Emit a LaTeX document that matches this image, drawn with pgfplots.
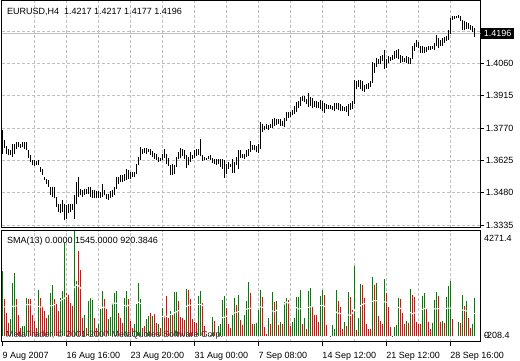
\documentclass[border=0pt]{standalone}
\usepackage{pgfplots}
\pgfplotsset{compat=1.18}
\usepackage{pgfplotstable}
\usepackage{fontspec}
\setmainfont{Liberation Sans}
\definecolor{gridc}{HTML}{C0C0C0}
\definecolor{volg}{HTML}{008000}
\definecolor{volr}{HTML}{FF0000}
\newcommand{\lbl}{\fontsize{9}{10}\selectfont}

\pgfplotstableread{
i h l
0 1.3762 1.3655
1 1.3715 1.3681
2 1.3692 1.3655
3 1.3678 1.3648
4 1.3670 1.3648
5 1.3700 1.3640
6 1.3700 1.3655
7 1.3707 1.3678
8 1.3707 1.3685
9 1.3700 1.3681
10 1.3707 1.3685
11 1.3707 1.3678
12 1.3707 1.3670
13 1.3670 1.3636
14 1.3648 1.3618
15 1.3626 1.3603
16 1.3626 1.3600
17 1.3621 1.3603
18 1.3626 1.3603
19 1.3596 1.3574
20 1.3588 1.3559
21 1.3551 1.3536
22 1.3544 1.3521
23 1.3536 1.3507
24 1.3507 1.3469
25 1.3507 1.3462
26 1.3507 1.3455
27 1.3462 1.3417
28 1.3432 1.3395
29 1.3432 1.3388
30 1.3447 1.3395
31 1.3432 1.3358
32 1.3425 1.3365
33 1.3432 1.3388
34 1.3432 1.3395
35 1.3432 1.3403
36 1.3469 1.3365
37 1.3529 1.3432
38 1.3551 1.3462
39 1.3499 1.3469
40 1.3492 1.3462
41 1.3499 1.3472
42 1.3499 1.3477
43 1.3507 1.3477
44 1.3507 1.3462
45 1.3492 1.3455
46 1.3492 1.3458
47 1.3487 1.3455
48 1.3487 1.3455
49 1.3484 1.3455
50 1.3521 1.3462
51 1.3492 1.3469
52 1.3477 1.3452
53 1.3477 1.3447
54 1.3487 1.3458
55 1.3492 1.3462
56 1.3507 1.3469
57 1.3551 1.3499
58 1.3551 1.3521
59 1.3559 1.3529
60 1.3559 1.3529
61 1.3566 1.3532
62 1.3588 1.3536
63 1.3581 1.3544
64 1.3574 1.3544
65 1.3574 1.3551
66 1.3574 1.3551
67 1.3611 1.3566
68 1.3640 1.3603
69 1.3685 1.3626
70 1.3678 1.3655
71 1.3681 1.3660
72 1.3681 1.3655
73 1.3678 1.3663
74 1.3675 1.3648
75 1.3666 1.3640
76 1.3660 1.3633
77 1.3655 1.3626
78 1.3640 1.3618
79 1.3636 1.3621
80 1.3655 1.3626
81 1.3678 1.3636
82 1.3655 1.3611
83 1.3636 1.3600
84 1.3606 1.3559
85 1.3611 1.3562
86 1.3603 1.3566
87 1.3641 1.3596
88 1.3663 1.3630
89 1.3681 1.3636
90 1.3678 1.3645
91 1.3670 1.3633
92 1.3651 1.3592
93 1.3641 1.3603
94 1.3663 1.3618
95 1.3651 1.3630
96 1.3670 1.3636
97 1.3678 1.3645
98 1.3678 1.3648
99 1.3720 1.3645
100 1.3648 1.3621
101 1.3641 1.3626
102 1.3636 1.3626
103 1.3645 1.3630
104 1.3651 1.3626
105 1.3636 1.3615
106 1.3633 1.3611
107 1.3630 1.3604
108 1.3633 1.3611
109 1.3630 1.3596
110 1.3633 1.3589
111 1.3626 1.3547
112 1.3611 1.3566
113 1.3618 1.3589
114 1.3611 1.3596
115 1.3633 1.3571
116 1.3618 1.3571
117 1.3641 1.3604
118 1.3670 1.3589
119 1.3670 1.3636
120 1.3655 1.3636
121 1.3655 1.3633
122 1.3670 1.3641
123 1.3678 1.3645
124 1.3711 1.3663
125 1.3696 1.3670
126 1.3696 1.3670
127 1.3690 1.3663
128 1.3700 1.3660
129 1.3797 1.3678
130 1.3789 1.3752
131 1.3782 1.3760
132 1.3789 1.3767
133 1.3785 1.3764
134 1.3789 1.3770
135 1.3812 1.3770
136 1.3815 1.3782
137 1.3812 1.3785
138 1.3812 1.3789
139 1.3812 1.3782
140 1.3804 1.3782
141 1.3815 1.3775
142 1.3844 1.3804
143 1.3844 1.3815
144 1.3841 1.3819
145 1.3853 1.3827
146 1.3871 1.3834
147 1.3886 1.3841
148 1.3893 1.3859
149 1.3908 1.3871
150 1.3916 1.3893
151 1.3916 1.3886
152 1.3901 1.3879
153 1.3928 1.3864
154 1.3908 1.3871
155 1.3904 1.3859
156 1.3893 1.3864
157 1.3893 1.3859
158 1.3886 1.3859
159 1.3896 1.3858
160 1.3892 1.3847
161 1.3882 1.3840
162 1.3877 1.3855
163 1.3873 1.3858
164 1.3873 1.3858
165 1.3870 1.3852
166 1.3884 1.3847
167 1.3884 1.3855
168 1.3882 1.3852
169 1.3877 1.3847
170 1.3870 1.3847
171 1.3867 1.3847
172 1.3870 1.3843
173 1.3877 1.3825
174 1.3882 1.3852
175 1.3892 1.3855
176 1.3986 1.3877
177 1.3981 1.3944
178 1.3986 1.3956
179 1.3986 1.3944
180 1.3981 1.3937
181 1.3962 1.3932
182 1.3966 1.3944
183 1.3974 1.3947
184 1.3981 1.3956
185 1.4066 1.3971
186 1.4063 1.4018
187 1.4085 1.4045
188 1.4081 1.4056
189 1.4093 1.4060
190 1.4100 1.4070
191 1.4120 1.4036
192 1.4078 1.4041
193 1.4093 1.4063
194 1.4090 1.4070
195 1.4096 1.4075
196 1.4115 1.4081
197 1.4120 1.4085
198 1.4125 1.4078
199 1.4100 1.4063
200 1.4093 1.4066
201 1.4085 1.4066
202 1.4093 1.4063
203 1.4090 1.4060
204 1.4085 1.4056
205 1.4140 1.4081
206 1.4152 1.4115
207 1.4164 1.4134
208 1.4155 1.4130
209 1.4140 1.4108
210 1.4137 1.4108
211 1.4134 1.4108
212 1.4134 1.4111
213 1.4137 1.4120
214 1.4140 1.4122
215 1.4140 1.4125
216 1.4152 1.4122
217 1.4189 1.4137
218 1.4175 1.4130
219 1.4167 1.4137
220 1.4175 1.4140
221 1.4179 1.4152
222 1.4185 1.4160
223 1.4209 1.4167
224 1.4264 1.4192
225 1.4274 1.4256
226 1.4271 1.4259
227 1.4274 1.4264
228 1.4279 1.4264
229 1.4274 1.4249
230 1.4256 1.4212
231 1.4249 1.4209
232 1.4244 1.4215
233 1.4241 1.4215
234 1.4234 1.4212
235 1.4227 1.4200
236 1.4217 1.4177
}\price

\pgfplotstableread{
i v
0 2630
4 680
5 2160
6 2560
10 415
11 415
12 1530
18 1890
23 880
24 1755
25 2090
29 1550
30 1820
31 3765
36 4271.4
37 2220
41 880
43 1420
44 1550
45 1530
48 480
49 1085
50 1820
53 680
54 780
55 1350
56 1755
57 1820
61 1550
62 1820
66 480
67 1290
68 2160
69 1490
72 680
73 820
75 820
78 480
80 1150
84 1020
86 1800
87 1800
92 1915
98 1620
99 1820
102 80
103 60
105 780
107 150
108 415
109 480
110 1450
111 1620
115 860
116 1550
118 1660
121 860
122 1420
123 2185
126 510
127 550
128 1045
129 1875
133 720
135 1800
137 1420
139 590
141 1390
142 1530
145 590
146 750
147 1580
148 1580
149 1875
151 750
153 1820
154 1955
159 1635
160 1875
164 20
165 455
166 310
167 1875
171 590
173 1800
176 2840
178 750
179 2115
185 2400
187 2160
191 2320
195 10
196 390
197 470
198 1555
202 630
204 1915
210 1635
211 1755
215 550
216 1475
217 1800
220 630
222 1595
223 2035
224 2240
228 590
230 1675
232 1435
235 510
236 1545
}\volgreen

\pgfplotstableread{
i v
1 1490
2 950
3 550
7 1490
8 880
9 350
13 1490
14 1490
15 880
16 620
17 350
19 1550
20 1220
21 1020
22 750
26 1490
27 1350
28 1020
32 1755
33 1690
34 1350
35 1220
38 3430
39 2690
40 750
42 350
46 750
47 350
51 1490
52 1085
58 950
59 750
60 550
63 1490
64 620
65 350
70 350
71 415
74 950
76 950
77 550
79 350
81 820
82 1620
83 750
85 860
88 1420
89 780
90 720
91 640
93 1875
94 1490
95 680
96 575
97 550
100 1350
101 415
104 60
106 620
112 1150
113 510
114 320
117 1260
119 670
120 455
124 1755
125 480
130 1580
131 375
132 80
134 510
136 1390
138 455
140 480
143 1450
144 415
150 510
152 310
155 1205
156 880
157 880
158 590
161 1675
162 455
168 1435
169 1190
170 310
172 430
174 1595
175 1070
177 270
180 2075
181 1555
182 510
183 310
184 310
186 2075
188 830
189 630
190 510
192 1755
193 1190
194 390
199 1515
200 950
201 510
203 550
205 1675
206 1595
207 590
208 510
209 510
212 1150
213 590
214 310
218 1635
219 590
221 550
225 710
229 550
231 1235
233 750
234 350
}\volred

\pgfplotstableread{
i s
0 1180
6 1220
13 1285
19 1180
25 1245
31 1555
37 2090
44 1555
50 1150
56 1350
62 1220
67 1420
73 1100
77 850
81 780
87 1000
93 1260
99 1285
105 1000
110 750
116 950
123 1125
129 1190
136 990
142 1390
148 1100
155 1205
160 1250
168 925
174 845
176 1070
180 1300
186 1445
192 1380
199 1125
205 910
211 1125
217 1110
224 1140
231 1045
236 920.3846
}\sma

\begin{document}
\begin{tikzpicture}
\path[use as bounding box] (0pt,0pt) rectangle (520pt,360pt);
% ---------------- price panel ----------------
\begin{axis}[
  at={(2pt,359.5pt)}, anchor=north west,
  scale only axis, width=478.7pt, height=227pt,
  xmin=-0.5, xmax=239, ymin=1.33247, ymax=1.43425,
  clip mode=individual,
  axis line style={black, line width=1pt},
  xtick={16,32,...,224}, xticklabels={}, xmajorgrids,
  xtick style={draw=none},
  ytick={1.3335,1.3480,1.3625,1.3770,1.3915,1.4060,1.4205},
  yticklabels={1.3335,1.3480,1.3625,1.3770,1.3915,1.4060,},
  ymajorgrids, ytick pos=right, yticklabel pos=right,
  ytick style={black, line width=1pt},
  tick align=outside, major tick length=3pt,
  major grid style={gridc, line width=1pt, dash pattern=on 3pt off 2pt},
  yticklabel style={anchor=west, inner sep=0pt, xshift=2pt, font=\lbl},
]
\addplot[gridc, line width=1pt, forget plot] coordinates {(-0.5,1.4196) (239,1.4196)};
\addplot[draw=none, mark=none, forget plot,
  error bars/.cd, y dir=plus, y explicit,
  error bar style={draw=black, solid, line width=1pt}, error mark=none]
  table[x=i, y=l, y error expr=\thisrow{h}-\thisrow{l}] {\price};
\node[fill=black, text=white, anchor=west, inner xsep=3pt, inner ysep=0pt,
  minimum height=11.3pt, font=\lbl] at (axis cs:239,1.4196) {1.4196};
\end{axis}
% ---------------- volume panel ----------------
\begin{axis}[
  at={(2pt,129.5pt)}, anchor=north west,
  scale only axis, width=478.7pt, height=111pt,
  xmin=-0.5, xmax=239, ymin=-208.4, ymax=4271.4,
  clip mode=individual,
  axis line style={black, line width=1pt},
  ytick=\empty,
  xtick={0,32,...,224},
  xticklabels={9 Aug 2007,16 Aug 16:00,23 Aug 20:00,31 Aug 00:00,7 Sep 08:00,14 Sep 12:00,21 Sep 12:00,28 Sep 16:00},
  xtick pos=left, tick align=outside, major tick length=4pt,
  xtick style={black, line width=1pt},
  minor xtick={16,32,...,224}, xminorgrids, minor tick length=0pt,
  minor grid style={gridc, line width=1pt, dash pattern=on 3pt off 2pt},
  xticklabel style={anchor=base west, inner sep=0pt, xshift=-0.5pt, yshift=-13pt, font=\lbl},
]
\addplot[ycomb, volg, line width=1pt, mark=none] table[x=i, y=v] {\volgreen};
\addplot[ycomb, volr, line width=1pt, mark=none] table[x=i, y=v] {\volred};
\addplot[white, line width=1pt, mark=none] table[x=i, y=s] {\sma};
\end{axis}
% ---------------- texts ----------------
\node[anchor=base west, inner sep=0pt, font=\lbl] at (7pt,346pt) {EURUSD,H4\ \ 1.4217 1.4217 1.4177 1.4196};
\node[anchor=base west, inner sep=0pt, font=\lbl] at (7pt,116.5pt) {SMA(13) 0.0000 1545.0000 920.3846};
\node[anchor=base west, inner sep=0pt, font=\lbl, text=black!80] at (6pt,23pt) {MetaTrader, \textcopyright\ 2001-2007 MetaQuotes Software Corp.};
\node[anchor=west, inner sep=0pt, font=\lbl] at (484pt,122pt) {4271.4};
\node[anchor=west, inner sep=0pt, font=\lbl] at (484pt,24.5pt) {-208.4};
\node[anchor=west, inner sep=0pt, font=\lbl] at (484pt,24.5pt) {0};
\end{tikzpicture}
\end{document}
